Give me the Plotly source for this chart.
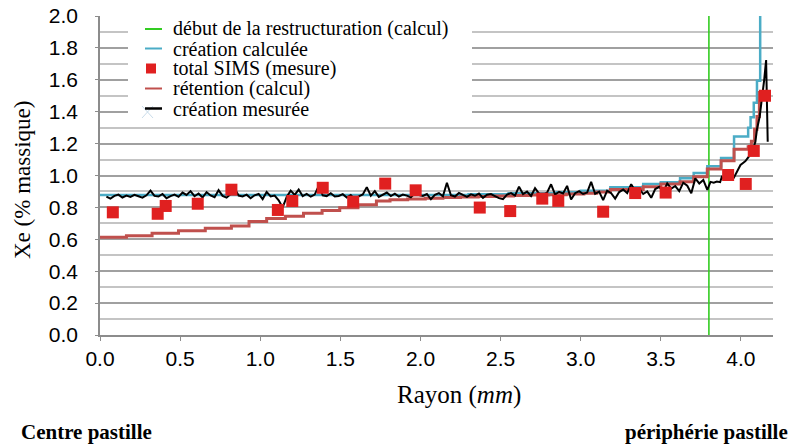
import plotly.graph_objects as go

# ---------------- data ----------------
restructuration_x = 3.8
y_top = 2.0

# création calculée (step function, start of each step)
calc_x = [0.0, 2.30, 2.55, 2.85, 3.0, 3.185, 3.39, 3.50, 3.62, 3.705, 3.79, 3.876,
          3.957, 4.045, 4.06, 4.08, 4.10, 4.12]
calc_y = [0.878, 0.883, 0.889, 0.895, 0.905, 0.926, 0.947, 0.957, 0.982, 1.016, 1.058,
          1.11, 1.245, 1.30, 1.365, 1.456, 1.594, 2.05]

# rétention (calcul) (step function)
ret_x = [0.0, 0.165, 0.325, 0.49, 0.657, 0.82, 0.93, 1.04, 1.157, 1.27, 1.386, 1.496,
         1.61, 1.725, 1.81, 1.92, 2.03, 2.14, 2.25, 2.36, 2.47, 2.58, 2.69, 2.80, 2.91,
         3.02, 3.10, 3.185, 3.39, 3.50, 3.62, 3.705, 3.79, 3.876, 3.957, 4.045, 4.065,
         4.085, 4.10, 4.115, 4.16]
ret_y = [0.613, 0.623, 0.638, 0.654, 0.67, 0.684, 0.712, 0.73, 0.745, 0.763, 0.781,
         0.798, 0.817, 0.84, 0.848, 0.853, 0.858, 0.862, 0.865, 0.868, 0.871, 0.874,
         0.877, 0.88, 0.884, 0.889, 0.896, 0.913, 0.93, 0.947, 0.961, 0.992, 1.04,
         1.093, 1.164, 1.18, 1.215, 1.29, 1.37, 1.52, 1.52]

# total SIMS (mesure)
sims_x = [0.08, 0.36, 0.41, 0.61, 0.82, 1.11, 1.20, 1.39, 1.58, 1.78, 1.97, 2.37,
          2.56, 2.76, 2.86, 3.14, 3.34, 3.53, 3.92, 4.03, 4.08, 4.15]
sims_y = [0.769, 0.760, 0.809, 0.823, 0.911, 0.784, 0.840, 0.923, 0.836, 0.949, 0.907,
          0.799, 0.777, 0.855, 0.841, 0.773, 0.890, 0.893, 1.003, 0.947, 1.154, 1.500]

# création mesurée
mes_x = [0.04, 0.065, 0.09, 0.115, 0.14, 0.165, 0.19, 0.215, 0.24, 0.265,
         0.29, 0.315, 0.34, 0.365, 0.39, 0.415, 0.44, 0.465, 0.49, 0.515,
         0.54, 0.565, 0.59, 0.615, 0.64, 0.665, 0.69, 0.715, 0.74, 0.765,
         0.79, 0.815, 0.84, 0.865, 0.89, 0.915, 0.94, 0.965, 0.99, 1.015,
         1.04, 1.065, 1.09, 1.115, 1.14, 1.165, 1.19, 1.215, 1.24, 1.265,
         1.29, 1.315, 1.34, 1.365, 1.39, 1.415, 1.44, 1.465, 1.49, 1.515,
         1.54, 1.565, 1.59, 1.615, 1.64, 1.665, 1.69, 1.715, 1.74, 1.765,
         1.79, 1.815, 1.84, 1.865, 1.89, 1.915, 1.94, 1.965, 1.99, 2.015,
         2.04, 2.065, 2.09, 2.115, 2.14, 2.165, 2.19, 2.215, 2.24, 2.265,
         2.29, 2.315, 2.34, 2.365, 2.39, 2.415, 2.44, 2.465, 2.49, 2.515,
         2.54, 2.565, 2.59, 2.615, 2.64, 2.665, 2.69, 2.715, 2.74, 2.765,
         2.79, 2.815, 2.84, 2.865, 2.89, 2.915, 2.94, 2.965, 2.99, 3.015,
         3.04, 3.065, 3.09, 3.115, 3.14, 3.165, 3.19, 3.215, 3.24, 3.265,
         3.29, 3.315, 3.34, 3.365, 3.39, 3.415, 3.44, 3.465, 3.49, 3.515,
         3.54, 3.565, 3.59, 3.615, 3.64, 3.665, 3.69, 3.715, 3.74, 3.765,
         3.79, 3.81, 3.83, 3.85, 3.87, 3.88, 3.895, 3.91, 3.93, 3.955,
         3.976, 3.997, 4.015, 4.028, 4.049, 4.07, 4.09, 4.10, 4.117, 4.13,
         4.145, 4.157, 4.167]
mes_y = [0.868, 0.855, 0.872, 0.880, 0.862, 0.874, 0.866, 0.879, 0.870, 0.861,
         0.876, 0.905, 0.872, 0.868, 0.884, 0.858, 0.871, 0.880, 0.866, 0.893,
         0.878, 0.902, 0.870, 0.887, 0.862, 0.896, 0.875, 0.864, 0.908, 0.872,
         0.861, 0.883, 0.918, 0.874, 0.869, 0.880, 0.858, 0.876, 0.884, 0.852,
         0.897, 0.869, 0.874, 0.845, 0.800, 0.866, 0.905, 0.878, 0.912, 0.870,
         0.884, 0.867, 0.880, 0.935, 0.876, 0.871, 0.889, 0.868, 0.872, 0.883,
         0.862, 0.877, 0.850, 0.869, 0.881, 0.927, 0.874, 0.902, 0.866, 0.879,
         0.893, 0.871, 0.886, 0.868, 0.880, 0.874, 0.863, 0.888, 0.877, 0.872,
         0.884, 0.851, 0.879, 0.890, 0.870, 0.955, 0.876, 0.868, 0.891, 0.878,
         0.866, 0.882, 0.873, 0.887, 0.860, 0.879, 0.884, 0.871, 0.858, 0.852,
         0.880, 0.890, 0.874, 0.930, 0.884, 0.899, 0.871, 0.920, 0.886, 0.878,
         0.893, 0.945, 0.881, 0.898, 0.887, 0.935, 0.849, 0.889, 0.902, 0.884,
         0.893, 0.960, 0.885, 0.899, 0.846, 0.905, 0.889, 0.855, 0.896, 0.912,
         0.890, 0.945, 0.903, 0.918, 0.884, 0.900, 0.860, 0.915, 0.929, 0.897,
         0.950, 0.918, 0.934, 0.902, 0.955, 0.936, 0.888, 0.982, 0.950, 0.972,
         0.910, 0.960, 0.955, 0.962, 0.958, 0.990, 0.975, 0.982, 0.978, 0.985,
         1.030, 1.066, 1.080, 1.090, 1.118, 1.149, 1.212, 1.290, 1.370, 1.470,
         1.600, 1.724, 1.212]

x_ticks = [0.0, 0.5, 1.0, 1.5, 2.0, 2.5, 3.0, 3.5, 4.0]

legend_labels = ["début de la restructuration (calcul)", "création calculée",
                 "total SIMS (mesure)", "rétention (calcul)", "création mesurée"]

# ---------------- styling ----------------
SERIF = "Liberation Serif, Times New Roman, serif"
SANS = "Liberation Sans, Arial, sans-serif"
C_GREEN = "#33cc22"
C_BLUE = "#4bacc6"
C_RED_LINE = "#c0504d"
C_RED_SQ = "#e02020"

W, H = 795, 444
ML, MR, MT, MB = 100, 22, 16, 109
PW, PH = W - ML - MR, H - MT - MB


def px(xp):
    """figure pixel x -> paper fraction"""
    return (xp - ML) / PW


def py(yp):
    """figure pixel y -> paper fraction"""
    return (H - MB - yp) / PH


fig = go.Figure()

fig.add_trace(go.Scatter(x=[restructuration_x, restructuration_x], y=[0, y_top],
                         mode="lines", line=dict(color=C_GREEN, width=1.6),
                         name=legend_labels[0], showlegend=False))
fig.add_trace(go.Scatter(x=calc_x, y=calc_y, mode="lines", line_shape="hv",
                         line=dict(color=C_BLUE, width=2.5),
                         name=legend_labels[1], showlegend=False))
fig.add_trace(go.Scatter(x=ret_x, y=ret_y, mode="lines", line_shape="hv",
                         line=dict(color=C_RED_LINE, width=3),
                         name=legend_labels[3], showlegend=False))
fig.add_trace(go.Scatter(x=mes_x, y=mes_y, mode="lines",
                         line=dict(color="#000000", width=2),
                         name=legend_labels[4], showlegend=False))
fig.add_trace(go.Scatter(x=sims_x, y=sims_y, mode="markers",
                         marker=dict(symbol="square", size=12, color=C_RED_SQ),
                         name=legend_labels[2], showlegend=False))

# ---------------- legend (drawn manually for compact spacing) ----------------
row_y = [29, 48.5, 68.5, 88.5, 108.5]
sym_colors = [C_GREEN, C_BLUE, None, C_RED_LINE, "#000000"]
sym_widths = [2, 2, 0, 2, 2.5]

shapes = [dict(type="rect", xref="paper", yref="paper",
               x0=px(128), x1=px(472), y0=py(118), y1=py(15),
               fillcolor="white", line=dict(width=0), layer="above")]
# faint cross behind the last legend symbol
shapes.append(dict(type="line", xref="paper", yref="paper", x0=px(142), x1=px(153),
                   y0=py(106), y1=py(118), line=dict(color="#c9dcea", width=1), layer="above"))
shapes.append(dict(type="line", xref="paper", yref="paper", x0=px(142), x1=px(153),
                   y0=py(118), y1=py(106), line=dict(color="#c9dcea", width=1), layer="above"))
for i, ry in enumerate(row_y):
    if sym_colors[i] is None:
        shapes.append(dict(type="rect", xref="paper", yref="paper",
                           x0=px(146), x1=px(156), y0=py(ry + 5), y1=py(ry - 5),
                           fillcolor=C_RED_SQ, line=dict(width=0), layer="above"))
    else:
        shapes.append(dict(type="line", xref="paper", yref="paper",
                           x0=px(145), x1=px(162), y0=py(ry), y1=py(ry),
                           line=dict(color=sym_colors[i], width=sym_widths[i]),
                           layer="above"))

annotations = []
for i, ry in enumerate(row_y):
    annotations.append(dict(text=legend_labels[i], xref="paper", yref="paper",
                            x=px(171), y=py(ry), xanchor="left", yanchor="middle",
                            showarrow=False,
                            font=dict(family=SERIF, size=20, color="black")))

annotations += [
    dict(text="Xe (% massique)", textangle=-90, xref="paper", yref="paper",
         x=px(22), y=py(180), xanchor="center", yanchor="middle", showarrow=False,
         font=dict(family=SERIF, size=23, color="black")),
    dict(text="Rayon (<i>mm</i>)", xref="paper", yref="paper",
         x=px(459), y=py(395), xanchor="center", yanchor="middle", showarrow=False,
         font=dict(family=SERIF, size=25, color="black")),
    dict(text="<b>Centre pastille</b>", xref="paper", yref="paper",
         x=px(19), y=py(432), xanchor="left", yanchor="middle", showarrow=False,
         font=dict(family=SERIF, size=21, color="black")),
    dict(text="<b>périphérie pastille</b>", xref="paper", yref="paper",
         x=px(790), y=py(432), xanchor="right", yanchor="middle", showarrow=False,
         font=dict(family=SERIF, size=21, color="black")),
]

fig.update_layout(
    width=W, height=H,
    margin=dict(l=ML, r=MR, t=MT, b=MB, autoexpand=False),
    paper_bgcolor="white", plot_bgcolor="white",
    showlegend=False,
    xaxis=dict(range=[0, 4.2], tickvals=x_ticks, tickformat=".1f", automargin=False,
               showgrid=False, zeroline=False, showline=True, linecolor="#8c8c8c",
               linewidth=1.5, ticks="outside", ticklen=4, tickcolor="#8c8c8c",
               ticklabelstandoff=0,
               tickfont=dict(family=SANS, size=21, color="black")),
    yaxis=dict(range=[0, 2.0], dtick=0.2, tickformat=".1f", automargin=False,
               showgrid=True, gridcolor="#a0a0a0", gridwidth=1.5,
               minor=dict(dtick=0.1, showgrid=True, gridcolor="#c4c4c4", gridwidth=1.5),
               zeroline=False, showline=True, linecolor="#8c8c8c", linewidth=1.5,
               ticks="outside", ticklen=3, tickcolor="#8c8c8c",
               ticklabelstandoff=13, ticklabeloverflow="allow",
               tickfont=dict(family=SANS, size=21, color="black")),
    shapes=shapes,
    annotations=annotations,
)

# remove the default 8px page margin so the figure fills the 795x444 window exactly
fig.write_html("out.html", config={"displayModeBar": False},
               post_script="document.body.style.margin='0';document.body.style.padding='0';")
